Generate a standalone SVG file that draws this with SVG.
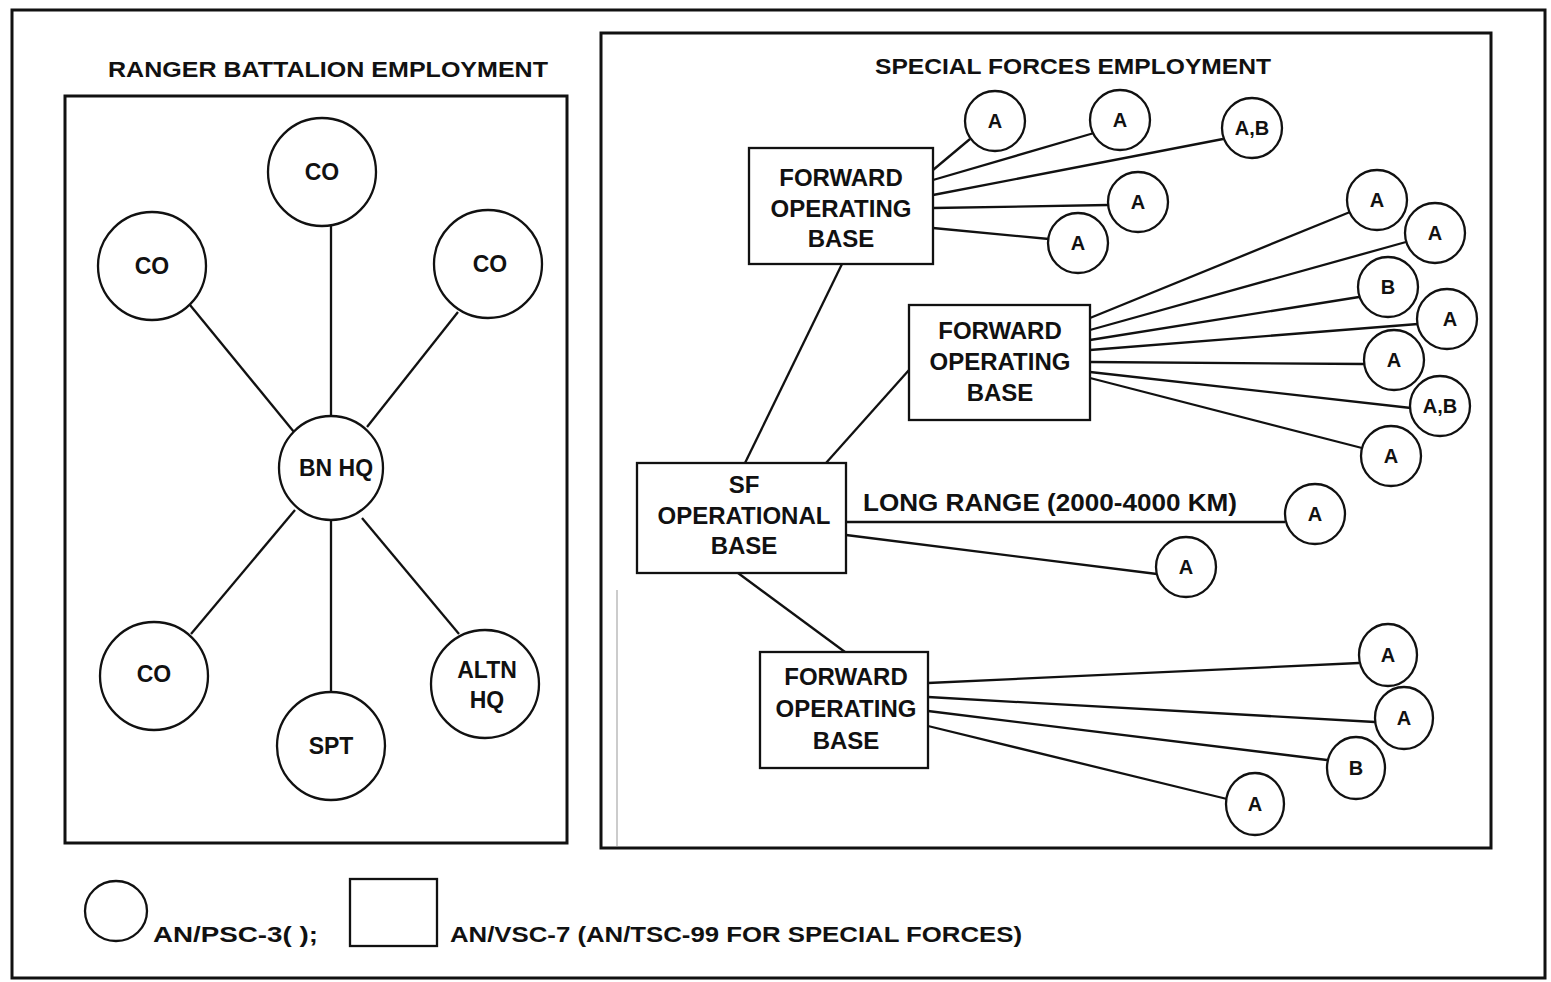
<svg xmlns="http://www.w3.org/2000/svg" width="1551" height="982" viewBox="0 0 1551 982">
<style>
.frame{fill:none;stroke:#111;stroke-width:3}
.node circle,.node ellipse,.node rect{fill:#fff;stroke:#111;stroke-width:2.3}
.conn line{stroke:#111;stroke-width:2.3}
text{font-family:"Liberation Sans",Arial,sans-serif;font-weight:bold;fill:#111;text-anchor:middle}
.big{font-size:24px}
.mid{font-size:23px}
.sm{font-size:20px}
.title{font-size:22px}
.leg{font-size:22px;text-anchor:start}
</style>
<rect width="1551" height="982" fill="#fff"/>
<rect class="frame" x="12" y="10" width="1533" height="968"/>
<rect class="frame" x="65" y="96" width="502" height="747"/>
<rect class="frame" x="601" y="33" width="890" height="815"/>
<line x1="617" y1="590" x2="617" y2="846" stroke="#999" stroke-width="1"/>
<text class="title" x="328" y="77" textLength="440" lengthAdjust="spacingAndGlyphs">RANGER BATTALION EMPLOYMENT</text>
<text class="title" x="1073" y="74" textLength="396" lengthAdjust="spacingAndGlyphs">SPECIAL FORCES EMPLOYMENT</text>

<g id="connectors" class="conn">
<line x1="331" y1="226" x2="331" y2="416"/>
<line x1="190" y1="305" x2="294" y2="432"/>
<line x1="458" y1="312" x2="367" y2="427"/>
<line x1="295" y1="510" x2="191" y2="634"/>
<line x1="331" y1="520" x2="331" y2="692"/>
<line x1="362" y1="518" x2="459" y2="634"/>
<line x1="745" y1="463" x2="842" y2="264"/>
<line x1="826" y1="463" x2="909" y2="370"/>
<line x1="738" y1="573" x2="845" y2="652"/>
<line x1="933" y1="170" x2="970" y2="139"/>
<line x1="933" y1="180" x2="1094" y2="133"/>
<line x1="933" y1="195" x2="1223" y2="139"/>
<line x1="933" y1="208" x2="1108" y2="205"/>
<line x1="933" y1="228" x2="1049" y2="239"/>
<line x1="1090" y1="318" x2="1350" y2="212"/>
<line x1="1090" y1="330" x2="1406" y2="242"/>
<line x1="1090" y1="340" x2="1359" y2="297"/>
<line x1="1090" y1="350" x2="1418" y2="324"/>
<line x1="1090" y1="362" x2="1364" y2="364"/>
<line x1="1090" y1="372" x2="1411" y2="408"/>
<line x1="1090" y1="378" x2="1362" y2="448"/>
<line x1="846" y1="522" x2="1285" y2="522"/>
<line x1="846" y1="535" x2="1157" y2="574"/>
<line x1="928" y1="683" x2="1359" y2="663"/>
<line x1="928" y1="697" x2="1375" y2="722"/>
<line x1="928" y1="711" x2="1327" y2="760"/>
<line x1="928" y1="726" x2="1227" y2="799"/>
</g>
<text x="863" y="511" style="font-size:23px;text-anchor:start" textLength="374" lengthAdjust="spacingAndGlyphs">LONG RANGE (2000-4000 KM)</text>

<g id="co-top" class="node"><circle cx="322" cy="172" r="54"/><text class="mid" x="322" y="180">CO</text></g>
<g id="co-left" class="node"><circle cx="152" cy="266" r="54"/><text class="mid" x="152" y="274">CO</text></g>
<g id="co-right" class="node"><circle cx="488" cy="264" r="54"/><text class="mid" x="490" y="272">CO</text></g>
<g id="bn-hq" class="node"><circle cx="331" cy="468" r="52"/><text class="mid" x="336" y="476">BN HQ</text></g>
<g id="co-bottom" class="node"><circle cx="154" cy="676" r="54"/><text class="mid" x="154" y="682">CO</text></g>
<g id="spt" class="node"><circle cx="331" cy="746" r="54"/><text class="mid" x="331" y="754">SPT</text></g>
<g id="altn-hq" class="node"><circle cx="485" cy="684" r="54"/><text class="mid" x="487" y="678">ALTN</text><text class="mid" x="487" y="708">HQ</text></g>

<g id="fob1" class="node"><rect x="749" y="148" width="184" height="116"/><text class="big" x="841" y="186">FORWARD</text><text class="big" x="841" y="217">OPERATING</text><text class="big" x="841" y="247">BASE</text></g>
<g id="fob2" class="node"><rect x="909" y="305" width="181" height="115"/><text class="big" x="1000" y="339">FORWARD</text><text class="big" x="1000" y="370">OPERATING</text><text class="big" x="1000" y="401">BASE</text></g>
<g id="sf-base" class="node"><rect x="637" y="463" width="209" height="110"/><text class="big" x="744" y="493">SF</text><text class="big" x="744" y="524">OPERATIONAL</text><text class="big" x="744" y="554">BASE</text></g>
<g id="fob3" class="node"><rect x="760" y="652" width="168" height="116"/><text class="big" x="846" y="685">FORWARD</text><text class="big" x="846" y="717">OPERATING</text><text class="big" x="846" y="749">BASE</text></g>

<g id="f1a1" class="node"><circle cx="995" cy="121" r="30"/><text class="sm" x="995" y="128">A</text></g>
<g id="f1a2" class="node"><circle cx="1120" cy="120" r="30"/><text class="sm" x="1120" y="127">A</text></g>
<g id="f1ab" class="node"><circle cx="1252" cy="128" r="30"/><text class="sm" x="1252" y="135">A,B</text></g>
<g id="f1a3" class="node"><circle cx="1138" cy="202" r="30"/><text class="sm" x="1138" y="209">A</text></g>
<g id="f1a4" class="node"><circle cx="1078" cy="243" r="30"/><text class="sm" x="1078" y="250">A</text></g>

<g id="f2a1" class="node"><circle cx="1377" cy="200" r="30"/><text class="sm" x="1377" y="207">A</text></g>
<g id="f2a2" class="node"><circle cx="1435" cy="233" r="30"/><text class="sm" x="1435" y="240">A</text></g>
<g id="f2b" class="node"><circle cx="1388" cy="287" r="30"/><text class="sm" x="1388" y="294">B</text></g>
<g id="f2a3" class="node"><circle cx="1447" cy="319" r="30"/><text class="sm" x="1450" y="326">A</text></g>
<g id="f2a4" class="node"><circle cx="1394" cy="360" r="30"/><text class="sm" x="1394" y="367">A</text></g>
<g id="f2ab" class="node"><circle cx="1440" cy="406" r="30"/><text class="sm" x="1440" y="413">A,B</text></g>
<g id="f2a5" class="node"><circle cx="1391" cy="456" r="30"/><text class="sm" x="1391" y="463">A</text></g>

<g id="sfa1" class="node"><circle cx="1315" cy="514" r="30"/><text class="sm" x="1315" y="521">A</text></g>
<g id="sfa2" class="node"><circle cx="1186" cy="567" r="30"/><text class="sm" x="1186" y="574">A</text></g>

<g id="f3a1" class="node"><ellipse cx="1388" cy="655" rx="29" ry="31"/><text class="sm" x="1388" y="662">A</text></g>
<g id="f3a2" class="node"><ellipse cx="1404" cy="718" rx="29" ry="31"/><text class="sm" x="1404" y="725">A</text></g>
<g id="f3b" class="node"><ellipse cx="1356" cy="768" rx="29" ry="31"/><text class="sm" x="1356" y="775">B</text></g>
<g id="f3a3" class="node"><ellipse cx="1255" cy="804" rx="29" ry="31"/><text class="sm" x="1255" y="811">A</text></g>

<g id="legend">
<g id="legend-circle" class="node"><ellipse cx="116" cy="911" rx="31" ry="30"/></g>
<text class="leg" x="153" y="942" textLength="165" lengthAdjust="spacingAndGlyphs">AN/PSC-3( );</text>
<g id="legend-box" class="node"><rect x="350" y="879" width="87" height="67"/></g>
<text class="leg" x="450" y="942" textLength="572" lengthAdjust="spacingAndGlyphs">AN/VSC-7 (AN/TSC-99 FOR SPECIAL FORCES)</text>
</g>
</svg>
